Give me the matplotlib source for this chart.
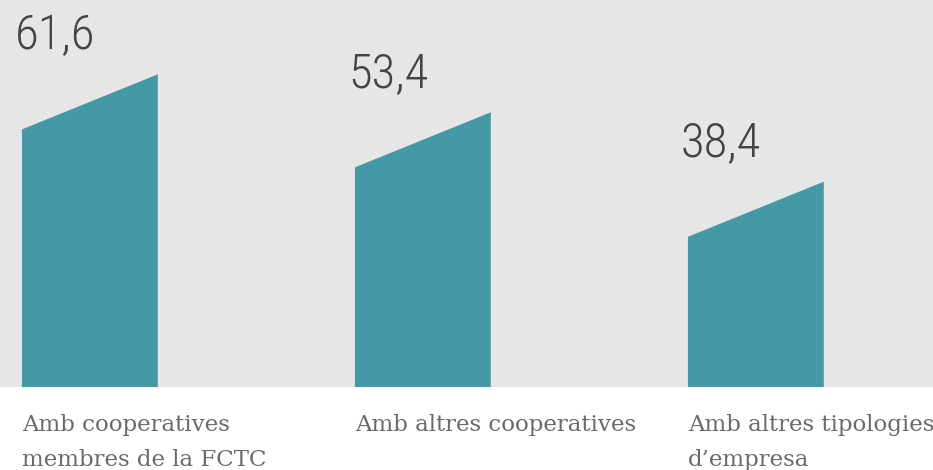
import matplotlib
matplotlib.use("Agg")
import matplotlib.pyplot as plt
from matplotlib.patches import Polygon
import matplotlib.transforms as mtransforms

categories = ["Amb cooperatives\nmembres de la FCTC", "Amb altres cooperatives", "Amb altres tipologies\nd\u2019empresa"]
values = [61.6, 53.4, 38.4]
value_labels = ["61,6", "53,4", "38,4"]

bar_color = "#4599a6"
bg_color = "#e6e6e6"

fig = plt.figure(figsize=(9.33, 4.70), dpi=100)
ax = fig.add_axes([0, 83 / 470, 1, 387 / 470])
ax.set_facecolor(bg_color)

pos = [0, 1.0, 2.0]
width = 0.408
slant = 11.9  # difference between right and left top edge

for x, v, lab in zip(pos, values, value_labels):
    x0, x1 = x - width / 2, x + width / 2
    poly = Polygon([(x0, 0), (x1, 0), (x1, v + slant / 2), (x0, v - slant / 2)],
                   closed=True, facecolor=bar_color, edgecolor="none")
    ax.add_patch(poly)
    ax.annotate(lab, (x0, v - slant / 2), xytext=(-5, 58), textcoords="offset points",
                ha="left", va="baseline", fontsize=35, color="#444444",
                family="Roboto Condensed", fontweight=300)

trans = mtransforms.blended_transform_factory(ax.transData, ax.transAxes)
for x, cat in zip(pos, categories):
    ax.text(x - width / 2, -0.069, cat, transform=trans, ha="left", va="top",
            fontsize=16.5, color="#6a6a6a", family="DejaVu Serif", linespacing=1.76)

ax.set_xlim(-0.270, 2.532)
ax.set_ylim(0, 83.6)
ax.set_xticks([])
ax.set_yticks([])
for s in ax.spines.values():
    s.set_visible(False)

fig.savefig("out.png", dpi=100)
